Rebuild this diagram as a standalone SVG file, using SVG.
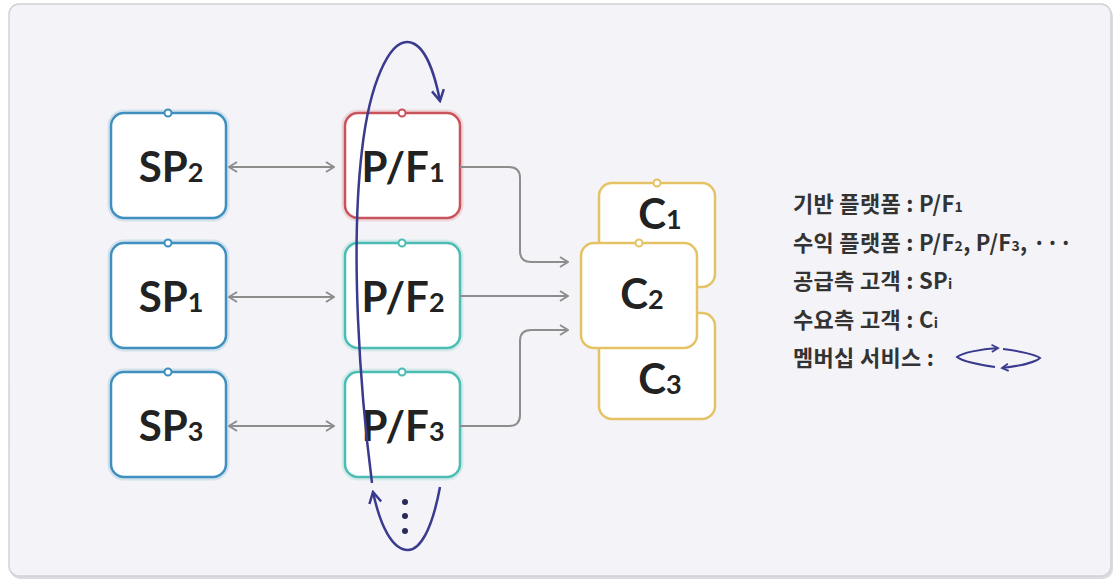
<svg xmlns="http://www.w3.org/2000/svg" width="1118" height="582" viewBox="0 0 1118 582">
<style>
.node{fill:#fff;stroke-width:2.5}
.halo{fill:none;stroke-width:7;opacity:0.18}
.sp{stroke:#3f8fbf}
.pf1{stroke:#c9535b}
.pf{stroke:#4bbdb2}
.c{stroke:#e5c263}
.dot{fill:#fff;stroke-width:2}
.lbl{font-family:Lato,"Noto Sans",sans-serif;font-weight:700;font-size:42px;fill:#222;text-anchor:middle}
.sub{font-size:27px}
.lg{font-family:"Noto Sans CJK KR",sans-serif;font-weight:700;font-size:22px;fill:#333;letter-spacing:0.3px}
.lgs{font-size:14px}
.conn{fill:none;stroke:#8d8d8d;stroke-width:2}
.loop{fill:none;stroke:#3a3a8e;stroke-width:2.5}
</style>
<defs>
<marker id="ah" viewBox="0 0 10 12" refX="9" refY="6" markerWidth="10" markerHeight="12" markerUnits="userSpaceOnUse" orient="auto-start-reverse">
<path d="M1,1 L9,6 L1,11" fill="none" stroke="#8d8d8d" stroke-width="2"/>
</marker>
<marker id="bh" viewBox="0 0 14 14" refX="12" refY="7" markerWidth="14" markerHeight="14" markerUnits="userSpaceOnUse" orient="auto">
<path d="M1,1 L12,7 L1,13" fill="none" stroke="#3a3a8e" stroke-width="2.5"/>
</marker>
<marker id="sh" viewBox="0 0 10 10" refX="8" refY="5" markerWidth="9" markerHeight="9" markerUnits="userSpaceOnUse" orient="auto">
<path d="M1,1 L8,5 L1,9" fill="none" stroke="#3a3a8e" stroke-width="2"/>
</marker>
</defs>

<rect x="10" y="6" width="1103" height="573" rx="10" fill="#dcdce0"/>
<rect x="9" y="4" width="1102" height="572" rx="10" fill="#f4f4f8" stroke="#d2d2d6" stroke-width="1.5"/>

<g id="SP2">
<rect class="halo sp" x="111" y="113" width="115" height="105" rx="13"/>
<rect class="node sp" x="111" y="113" width="115" height="105" rx="13"/>
<circle class="dot sp" cx="168" cy="113" r="3.5"/>
<text class="lbl" x="171" y="182">SP<tspan class="sub">2</tspan></text>
</g>
<g id="SP1">
<rect class="halo sp" x="111" y="243" width="115" height="105" rx="13"/>
<rect class="node sp" x="111" y="243" width="115" height="105" rx="13"/>
<circle class="dot sp" cx="168" cy="243" r="3.5"/>
<text class="lbl" x="171" y="312">SP<tspan class="sub">1</tspan></text>
</g>
<g id="SP3">
<rect class="halo sp" x="111" y="372" width="115" height="105" rx="13"/>
<rect class="node sp" x="111" y="372" width="115" height="105" rx="13"/>
<circle class="dot sp" cx="168" cy="372" r="3.5"/>
<text class="lbl" x="171" y="441">SP<tspan class="sub">3</tspan></text>
</g>

<g id="PF1">
<rect class="halo pf1" x="345" y="113" width="115" height="105" rx="13"/>
<rect class="node pf1" x="345" y="113" width="115" height="105" rx="13"/>
<circle class="dot pf1" cx="402" cy="113" r="3.5"/>
<text class="lbl" x="403" y="182">P/F<tspan class="sub">1</tspan></text>
</g>
<g id="PF2">
<rect class="halo pf" x="345" y="243" width="115" height="105" rx="13"/>
<rect class="node pf" x="345" y="243" width="115" height="105" rx="13"/>
<circle class="dot pf" cx="402" cy="243" r="3.5"/>
<text class="lbl" x="403" y="312">P/F<tspan class="sub">2</tspan></text>
</g>
<g id="PF3">
<rect class="halo pf" x="345" y="372" width="115" height="105" rx="13"/>
<rect class="node pf" x="345" y="372" width="115" height="105" rx="13"/>
<circle class="dot pf" cx="402" cy="372" r="3.5"/>
<text class="lbl" x="403" y="441">P/F<tspan class="sub">3</tspan></text>
</g>

<g id="C1">
<rect class="node c" x="599" y="183" width="116" height="104" rx="13"/>
<circle class="dot c" cx="657" cy="183" r="3.5"/>
<text class="lbl" x="660" y="229">C<tspan class="sub">1</tspan></text>
</g>
<g id="C3">
<rect class="node c" x="599" y="313" width="116" height="106" rx="13"/>
<text class="lbl" x="660" y="394">C<tspan class="sub">3</tspan></text>
</g>
<g id="C2">
<rect class="node c" x="581" y="243" width="116" height="105" rx="13"/>
<circle class="dot c" cx="639" cy="243" r="3.5"/>
<text class="lbl" x="642" y="309">C<tspan class="sub">2</tspan></text>
</g>

<g id="connectors">
<path class="conn" d="M229,167 H334" marker-start="url(#ah)" marker-end="url(#ah)"/>
<path class="conn" d="M229,297 H334" marker-start="url(#ah)" marker-end="url(#ah)"/>
<path class="conn" d="M229,426 H334" marker-start="url(#ah)" marker-end="url(#ah)"/>
<path class="conn" d="M460,167 H509 Q520,167 520,178 V251 Q520,262 531,262 H568" marker-end="url(#ah)"/>
<path class="conn" d="M460,296 H568" marker-end="url(#ah)"/>
<path class="conn" d="M460,426 H509 Q520,426 520,415 V341 Q520,330 531,330 H568" marker-end="url(#ah)"/>
<path class="loop" d="M372,483 C360,390 350,250 362,150 C370,80 390,42 407,42 C425,42 435,75 440,101" marker-end="url(#bh)"/>
<path class="loop" d="M440,487 C432,530 420,550 408,550 C392,550 380,525 373,492" marker-end="url(#bh)"/>
</g>

<g id="ellipsis" fill="#2a2a5a">
<circle cx="405" cy="502" r="3"/>
<circle cx="405" cy="516" r="3"/>
<circle cx="405" cy="531" r="3"/>
</g>

<g id="legend">
<text class="lg" x="793" y="212">기반 플랫폼 : P/F<tspan class="lgs">1</tspan></text>
<text class="lg" x="793" y="251">수익 플랫폼 : P/F<tspan class="lgs">2</tspan>, P/F<tspan class="lgs">3</tspan>, ···</text>
<text class="lg" x="793" y="289">공급측 고객 : SP<tspan class="lgs">i</tspan></text>
<text class="lg" x="793" y="328">수요측 고객 : C<tspan class="lgs">i</tspan></text>
<text class="lg" x="793" y="366">멤버십 서비스 :</text>
<path class="loop" style="stroke-width:2" d="M995,367 C980,365 962,361 957,357 C962,353 980,349 998,348" marker-end="url(#sh)"/>
<path class="loop" style="stroke-width:2" d="M1003,349 C1020,351 1036,355 1040,358 C1036,362 1020,366 1002,368" marker-end="url(#sh)"/>
</g>
</svg>
